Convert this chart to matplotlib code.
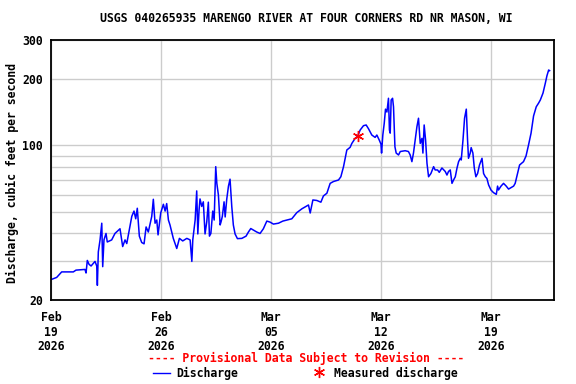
import matplotlib
matplotlib.use("Agg")
import matplotlib.pyplot as plt
import matplotlib.dates as mdates
import matplotlib.ticker as mticker
from matplotlib.lines import Line2D
import numpy as np
import pandas as pd

# days since 2026-02-19 00:00, discharge in cfs
days = [0.04, 0.36, 0.68, 1.00, 1.42, 1.59, 2.16, 2.23, 2.31, 2.42, 2.55, 2.80, 2.91, 2.95,
        3.01, 3.12, 3.23, 3.29, 3.37, 3.50, 3.58, 3.86, 4.07, 4.39, 4.56, 4.71, 4.82, 4.98,
        5.14, 5.28, 5.39, 5.49, 5.62, 5.77, 5.92, 6.05, 6.19, 6.41, 6.51, 6.62, 6.73, 6.81,
        6.98, 7.15, 7.26, 7.36, 7.47, 7.57, 7.68, 7.78, 8.00, 8.17, 8.38, 8.64, 8.85, 8.96,
        9.02, 9.17, 9.27, 9.34, 9.42, 9.48, 9.59, 9.69, 9.80, 9.91, 10.01, 10.08, 10.17, 10.29,
        10.38, 10.48, 10.55, 10.65, 10.76, 10.82, 10.90, 11.01, 11.08, 11.18, 11.29, 11.39,
        11.50, 11.60, 11.71, 11.86, 12.14, 12.41, 12.56, 12.71, 12.88, 13.09, 13.30, 13.51,
        13.73, 13.94, 14.15, 14.47, 14.75, 15.00, 15.32, 15.64, 15.96, 16.28, 16.38, 16.49,
        16.66, 16.91, 17.17, 17.33, 17.55, 17.76, 17.97, 18.29, 18.44, 18.61, 18.82, 19.03,
        19.14, 19.35, 19.50, 19.67, 19.88, 20.05, 20.20, 20.41, 20.62, 20.73, 20.88, 20.99,
        21.03, 21.11, 21.20, 21.28, 21.37, 21.47, 21.53, 21.58, 21.64, 21.73, 21.79, 21.88,
        21.96, 22.11, 22.22, 22.53, 22.74, 22.85, 22.96, 23.06, 23.17, 23.28, 23.38, 23.49,
        23.60, 23.66, 23.74, 23.83, 23.92, 24.02, 24.17, 24.34, 24.44, 24.59, 24.70, 24.87,
        25.08, 25.19, 25.29, 25.40, 25.51, 25.61, 25.72, 25.83, 25.93, 26.04, 26.10, 26.21,
        26.31, 26.42, 26.50, 26.56, 26.67, 26.73, 26.84, 26.93, 27.03, 27.14, 27.26, 27.42,
        27.52, 27.63, 27.73, 27.84, 27.99, 28.15, 28.33, 28.41, 28.47, 28.63, 28.79, 28.96,
        29.11, 29.43, 29.53, 29.68, 29.81, 30.06, 30.22, 30.38, 30.54, 30.70, 30.87, 31.02,
        31.13, 31.30, 31.45, 31.55, 31.66, 31.72]
discharge = [24.8, 25.3, 26.8, 26.8, 26.8, 27.3, 27.5, 26.5, 30.2, 29.0, 28.5, 29.9, 28.5, 23.3,
             33.0, 37.4, 44.5, 28.3, 37.4, 40.0, 36.6, 37.4, 40.0, 42.0, 34.9, 37.4, 36.0, 41.5,
             47.8, 50.5, 46.6, 52.0, 38.9, 36.4, 35.9, 42.8, 40.6, 47.8, 57.1, 44.5, 46.0, 39.4,
             49.5, 54.2, 50.5, 54.6, 46.0, 43.7, 40.6, 38.0, 34.2, 38.0, 37.0, 38.0, 37.4, 29.9,
             37.4, 46.0, 62.3, 39.8, 51.1, 57.3, 53.0, 55.6, 39.8, 45.2, 55.4, 38.9, 40.0, 50.5,
             46.0, 80.2, 67.4, 59.7, 43.7, 45.2, 47.8, 55.6, 47.5, 57.1, 65.5, 70.4,
             53.0, 43.7, 39.8, 37.9, 38.0, 38.9, 40.6, 42.1, 41.4, 40.6, 40.0, 42.0,
             45.5, 45.0, 44.1, 44.5, 45.5, 46.0, 46.6, 49.7, 51.7, 53.3, 53.8, 49.5,
             56.7, 56.4, 55.4, 59.1, 60.8, 67.4, 68.7, 69.8, 72.2, 80.2, 95.4, 98.1,
             102.2, 107.7, 110.0, 117.5, 122.9, 123.8, 119.0, 111.5, 108.8, 111.5, 105.9, 101.5,
             92.4, 111.5, 126.0, 146.0, 141.7, 163.5, 117.5, 113.7, 160.6, 163.5, 149.6, 98.7,
             92.4, 90.6, 93.9, 94.7, 93.9, 90.6, 84.5, 92.4, 105.9, 121.7, 132.8, 102.2,
             107.7, 92.4, 123.8, 105.9, 83.0, 72.2, 74.7, 80.2, 77.5, 77.5, 75.6, 79.1,
             76.3, 73.5, 76.3, 77.5, 67.4, 69.8, 72.2, 79.1, 84.5, 87.5, 86.0, 105.9,
             132.8, 146.0, 105.9, 87.5, 92.4, 97.8, 92.4, 79.1, 72.2, 74.7, 81.6, 87.5,
             74.7, 72.2, 71.0, 66.3, 62.9, 61.2, 60.1, 65.5, 62.9, 65.5, 67.4, 65.5,
             63.5, 65.5, 67.4, 74.7, 81.6, 84.5, 89.6, 100.5, 113.7, 136.0, 149.6, 155.5,
             160.6, 172.6, 191.6, 206.6, 219.5, 218.0]

measured_day = [19.50]
measured_q = [110.0]

start = pd.Timestamp("2026-02-19")
tick_dates = ["2026-02-19", "2026-02-26", "2026-03-05", "2026-03-12", "2026-03-19"]
y_labels = [20, 100, 200, 300]
y_minor = [30, 40, 50, 60, 70, 80, 90]

times = start + pd.to_timedelta(days, unit="D")
mtimes = start + pd.to_timedelta(measured_day, unit="D")

mono = "DejaVu Sans Mono"
fs = 8.3

fig = plt.figure(figsize=(5.76, 3.84), dpi=100)
ax = fig.add_axes([51 / 576, 1 - 300 / 384, 503 / 576, 260 / 384])

ax.plot(times, discharge, color="#0000ff", lw=1.1)
ax.plot(mtimes, measured_q, color="red", marker=(6, 2, 0), ms=8, mew=1.0, ls="none")

ax.set_yscale("log")
ax.set_ylim(20, 300)
ax.set_xlim(start, start + pd.Timedelta(days=32))

ax.yaxis.set_major_locator(mticker.FixedLocator(y_labels))
ax.yaxis.set_major_formatter(mticker.FixedFormatter([str(v) for v in y_labels]))
ax.yaxis.set_minor_locator(mticker.FixedLocator(y_minor))
ax.yaxis.set_minor_formatter(mticker.NullFormatter())

ax.xaxis.set_major_locator(mticker.FixedLocator(mdates.date2num(pd.to_datetime(tick_dates))))
ax.xaxis.set_major_formatter(mdates.DateFormatter("%b\n%d\n%Y"))

ax.grid(True, which="both", color="#cccccc", lw=1.0)
ax.set_axisbelow(True)
ax.tick_params(which="both", length=0)
ax.tick_params(axis="y", pad=6)
ax.tick_params(axis="x", pad=8)
for lab in ax.get_xticklabels() + ax.get_yticklabels():
    lab.set_fontfamily(mono)
    lab.set_fontweight("bold")
    lab.set_fontsize(fs)
    lab.set_linespacing(1.15)
for sp in ax.spines.values():
    sp.set_linewidth(1.3)

ax.set_ylabel("Discharge, cubic feet per second", fontfamily=mono, fontweight="bold",
              fontsize=fs, va="center")
ax.yaxis.set_label_coords(-39 / 503, 0.49)

fig.text(306 / 576, 1 - 19 / 384, "USGS 040265935 MARENGO RIVER AT FOUR CORNERS RD NR MASON, WI",
         ha="center", va="center", fontfamily=mono, fontweight="bold", fontsize=fs)
fig.text(306 / 576, 1 - 358 / 384, "---- Provisional Data Subject to Revision ----",
         ha="center", va="center", fontfamily=mono, fontweight="bold", fontsize=fs, color="red")

fig.add_artist(Line2D([153 / 576, 170 / 576], [1 - 373 / 384] * 2, color="#0000ff", lw=1.0))
fig.text(176 / 576, 1 - 373 / 384, "Discharge", ha="left", va="center",
         fontfamily=mono, fontweight="bold", fontsize=fs)
fig.add_artist(Line2D([319 / 576], [1 - 372 / 384], color="red", marker=(6, 2, 0), ms=8,
                      mew=1.0, ls="none"))
fig.text(334 / 576, 1 - 373 / 384, "Measured discharge", ha="left", va="center",
         fontfamily=mono, fontweight="bold", fontsize=fs)

fig.savefig("out.png", dpi=100)
